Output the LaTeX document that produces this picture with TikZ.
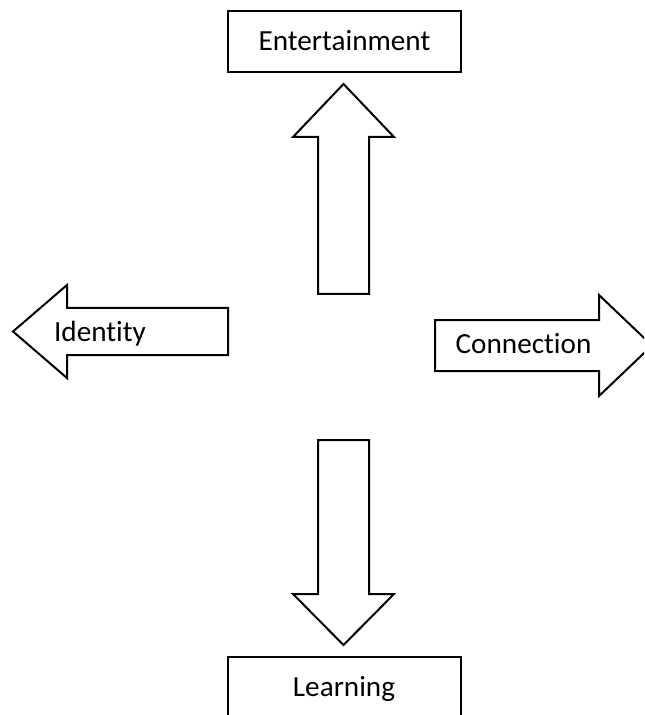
\documentclass[tikz,border=0pt]{standalone}
\usepackage{fontspec}
\setmainfont{Carlito}[Ligatures={NoCommon}]
\tikzset{
  labelbox/.style   = {shape=rectangle, draw, line width=1pt, align=center,
                       minimum width=116.5pt, minimum height=30.5pt,
                       text height=9.4pt, text depth=0pt},
  arrowtext/.style  = {anchor=base, inner sep=0pt},
  blockarrow/.style = {draw, line width=1pt, line join=miter}
}

\begin{document}
\begin{tikzpicture}
  [
    x                 = 0.5pt,
    y                 = -0.5pt,
    every node/.style = {font=\fontsize{14.6}{17.5}\selectfont}
  ]
  \useasboundingbox (0,0) rectangle (644,715);
  \clip (0,0) rectangle (644,715);
  % the two boxes
  \node [labelbox] (entertainment) at (344.5,41.5)  {Entertainment};
  \node [labelbox] (learning)      at (344,687.5)   {Learning};
  % up and down
  \draw [blockarrow] (318,294) -- (318,137) -- (293,137) -- (343.5,84)
    -- (394,137) -- (369,137) -- (369,294) -- cycle;
  \draw [blockarrow] (318,440) -- (318,594) -- (293,594) -- (343.5,645)
    -- (394,594) -- (369,594) -- (369,440) -- cycle;
  % left and right
  \draw [blockarrow] (228,308) -- (67,308) -- (67,285) -- (13,331.5)
    -- (67,378) -- (67,355) -- (228,355) -- cycle;
  \draw [blockarrow] (435,320) -- (599,320) -- (599,295) -- (652,345.5)
    -- (599,396) -- (599,371) -- (435,371) -- cycle;
  \node [arrowtext] (identity)   at (100,341.5) {Identity};
  \node [arrowtext] (connection) at (523.5,353) {Connection};
\end{tikzpicture}
\end{document}
